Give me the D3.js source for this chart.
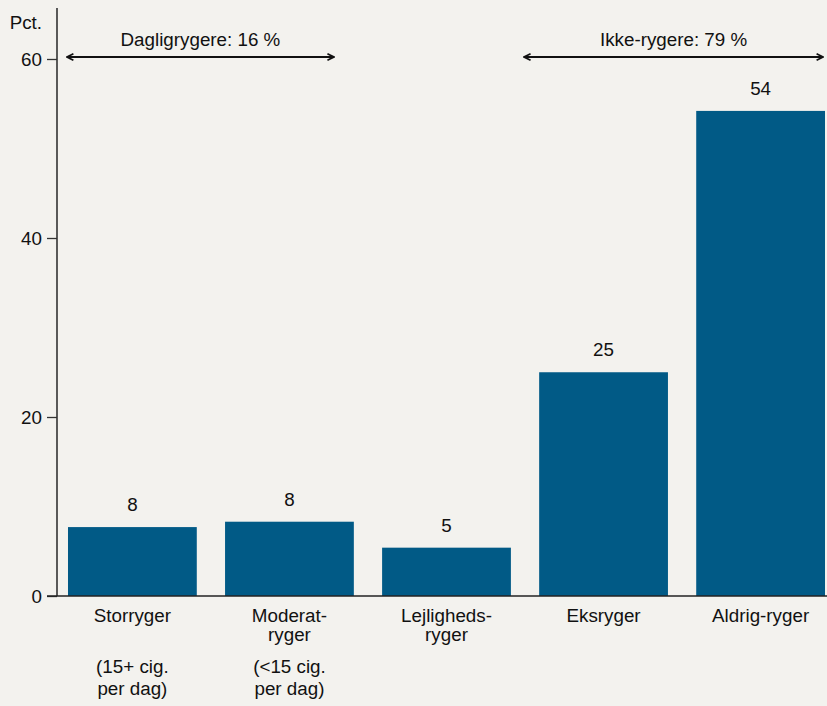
<!DOCTYPE html>
<html>
<head>
<meta charset="utf-8">
<script src="https://cdn.jsdelivr.net/npm/d3@7"></script>
<style>
  body { margin: 0; background: #f3f2ee; }
  svg { display: block; font-family: "Liberation Sans", Arial, Helvetica, sans-serif; }
</style>
</head>
<body>
<div id="chart"></div>
<script>
// data
var kategorier = ["Storryger", "Moderat", "Lejligheds", "Eksryger", "Aldrig"];
var etiketter = [["Storryger"], ["Moderat-", "ryger"], ["Lejligheds-", "ryger"], ["Eksryger"], ["Aldrig-ryger"]];
var underEtiketter = [["(15+ cig.", "per dag)"], ["(<15 cig.", "per dag)"], [], [], []];
var andele = [7.7, 8.3, 5.4, 25.0, 54.2];
var visteTal = ["8", "8", "5", "25", "54"];
var yTicks = [0, 20, 40, 60];
var grupper = [
    { tekst: "Dagligrygere: 16 %", fra: "Storryger", til: "Moderat" },
    { tekst: "Ikke-rygere: 79 %", fra: "Eksryger", til: "Aldrig" }
];

var width = 827, height = 706;
var fontSize = 18.8;
var farve = "#015a86";

var svg = d3.select("#chart").append("svg")
    .attr("width", width)
    .attr("height", height);

svg.append("rect").attr("width", width).attr("height", height).attr("fill", "#f3f2ee");

// skalaer
var x = d3.scaleBand()
    .domain(kategorier)
    .range([57, 836])
    .paddingInner(0.18)
    .paddingOuter(0.07);

var y = d3.scaleLinear()
    .domain([0, 60])
    .range([596, 59]);

// søjler
svg.selectAll("rect.bar")
    .data(andele)
    .enter().append("rect")
    .attr("class", "bar")
    .attr("x", function(d, i) { return x(kategorier[i]); })
    .attr("y", function(d) { return y(d); })
    .attr("width", x.bandwidth())
    .attr("height", function(d) { return y(0) - y(d); })
    .attr("fill", farve);

// tal over søjler
svg.selectAll("text.val")
    .data(andele)
    .enter().append("text")
    .attr("class", "val")
    .attr("x", function(d, i) { return x(kategorier[i]) + x.bandwidth() / 2; })
    .attr("y", function(d) { return y(d) - 16; })
    .attr("text-anchor", "middle")
    .attr("font-size", fontSize)
    .attr("fill", "#111")
    .text(function(d, i) { return visteTal[i]; });

// y-akse
var yAxis = d3.axisLeft(y).tickValues(yTicks).tickSize(10).tickPadding(5);
var gy = svg.append("g").attr("transform", "translate(57,0)").call(yAxis);
gy.select(".domain").remove();
gy.selectAll(".tick line").attr("stroke", "#333").attr("stroke-width", 1.3);
gy.selectAll(".tick text")
    .attr("font-size", fontSize)
    .attr("font-family", "Liberation Sans, Arial, sans-serif")
    .attr("fill", "#111");

svg.append("line")
    .attr("x1", 57).attr("x2", 57)
    .attr("y1", 8).attr("y2", y(0))
    .attr("stroke", "#333").attr("stroke-width", 1.6);

svg.append("line")
    .attr("x1", 47).attr("x2", width)
    .attr("y1", y(0)).attr("y2", y(0))
    .attr("stroke", "#222").attr("stroke-width", 1.6);

svg.append("text")
    .attr("x", 42).attr("y", 29)
    .attr("text-anchor", "end")
    .attr("font-size", fontSize)
    .attr("fill", "#111")
    .text("Pct.");

// kategori-etiketter
var kat = svg.selectAll("g.kat")
    .data(kategorier)
    .enter().append("g")
    .attr("class", "kat")
    .attr("transform", function(d) { return "translate(" + (x(d) + x.bandwidth() / 2) + ",0)"; });

kat.each(function(d, i) {
    var g = d3.select(this);
    etiketter[i].forEach(function(linje, j) {
        g.append("text")
            .attr("y", 622 + j * 19)
            .attr("text-anchor", "middle")
            .attr("font-size", fontSize)
            .attr("fill", "#111")
            .text(linje);
    });
    underEtiketter[i].forEach(function(linje, j) {
        g.append("text")
            .attr("y", 673 + j * 22)
            .attr("text-anchor", "middle")
            .attr("font-size", fontSize)
            .attr("fill", "#111")
            .text(linje);
    });
});

// pile
svg.append("defs").append("marker")
    .attr("id", "pil")
    .attr("viewBox", "0 0 10 10")
    .attr("refX", 9).attr("refY", 5)
    .attr("markerWidth", 8).attr("markerHeight", 8)
    .attr("markerUnits", "userSpaceOnUse")
    .attr("orient", "auto-start-reverse")
    .append("path")
    .attr("d", "M1,1 L9,5 L1,9")
    .attr("fill", "none")
    .attr("stroke", "#111")
    .attr("stroke-width", 2.2);

var pilY = 57;
grupper.forEach(function(gr, i) {
    var x1 = i == 0 ? x(gr.fra) - 1 : x(gr.fra) - 15;
    var x2 = i == 0 ? x(gr.til) + x.bandwidth() - 20 : x(gr.til) + x.bandwidth() - 2;
    svg.append("line")
        .attr("x1", x1).attr("x2", x2)
        .attr("y1", pilY).attr("y2", pilY)
        .attr("stroke", "#111").attr("stroke-width", 2)
        .attr("marker-start", "url(#pil)")
        .attr("marker-end", "url(#pil)");
    svg.append("text")
        .attr("x", (x1 + x2) / 2)
        .attr("y", 46)
        .attr("text-anchor", "middle")
        .attr("font-size", fontSize)
        .attr("fill", "#111")
        .text(gr.tekst);
});
</script>
</body>
</html>
